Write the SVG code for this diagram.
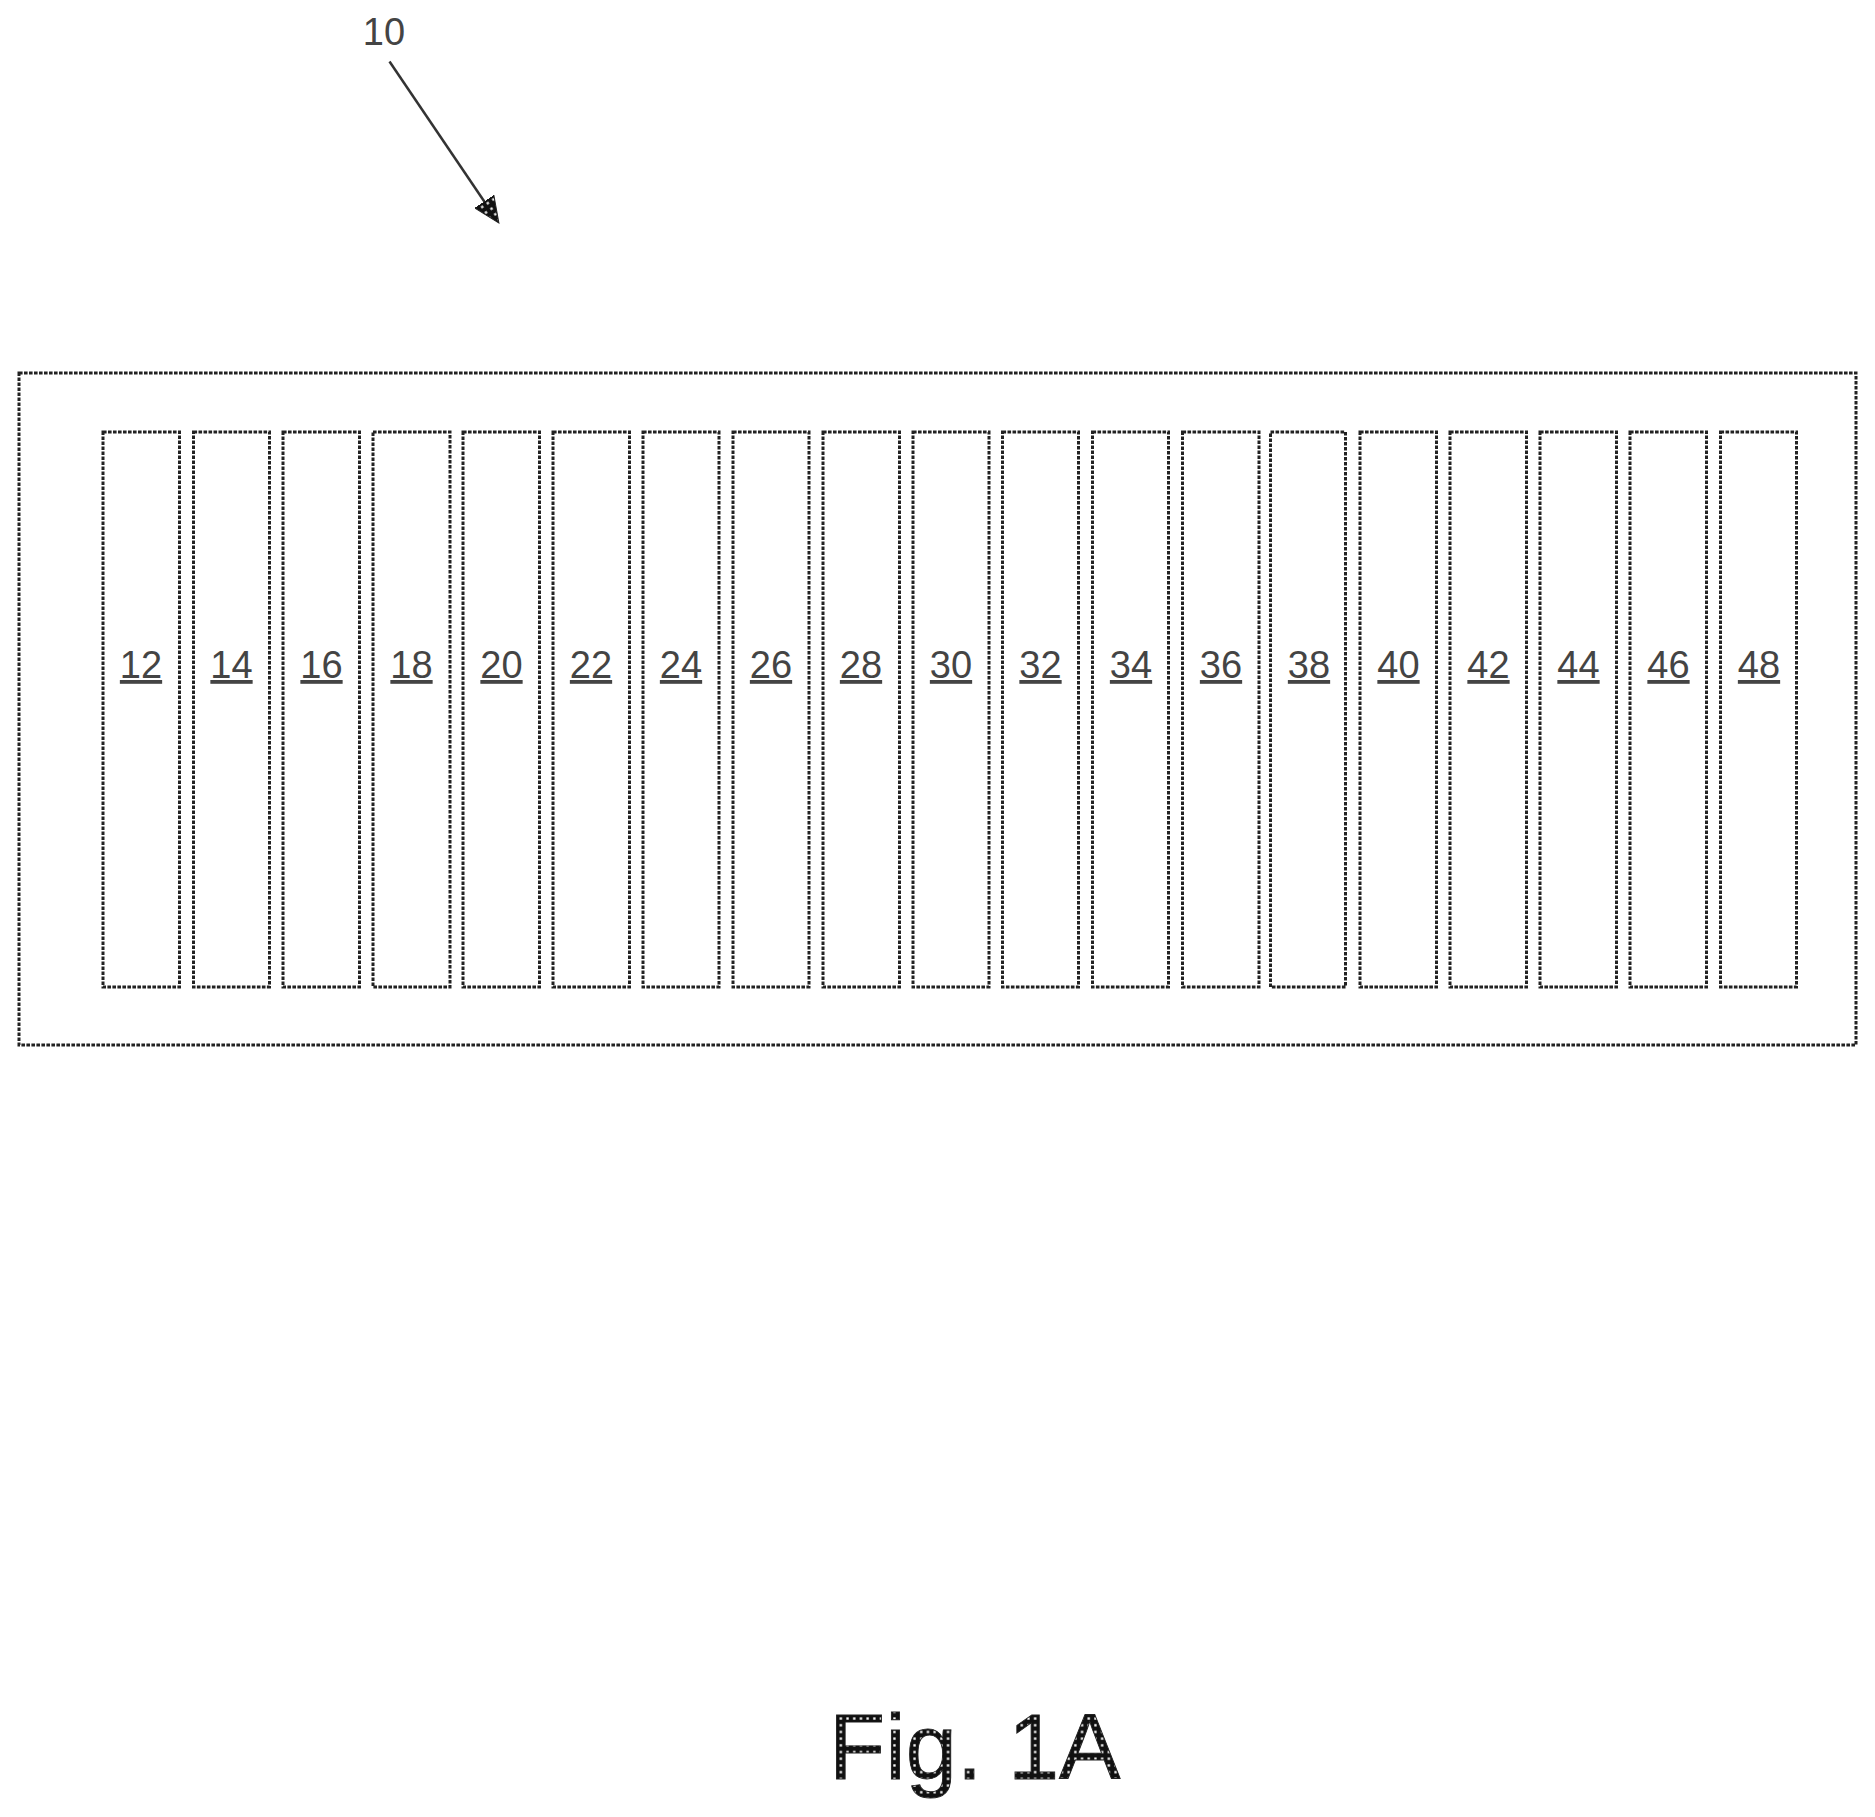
<svg xmlns="http://www.w3.org/2000/svg" width="1875" height="1817" viewBox="0 0 1875 1817">
<style>
.box{fill:#fff;stroke:#222;stroke-width:3;stroke-dasharray:3.6 1.4}
.lbl{font-family:"Liberation Sans",Arial,sans-serif;font-size:38px;fill:#444;text-anchor:middle}
.ul{text-decoration:underline}
.fig{font-family:"Liberation Sans",Arial,sans-serif;font-size:92px;fill:url(#speck);stroke:#222;stroke-width:.9}
.lead{stroke:#333;stroke-width:2.5;fill:none}
</style>
<defs>
<pattern id="speck" width="6.7" height="6.7" patternUnits="userSpaceOnUse">
<rect width="6.7" height="6.7" fill="#111"/>
<rect x="2.2" y="2.2" width="2.3" height="2.3" fill="#fff"/>
</pattern>
<marker id="head" markerUnits="userSpaceOnUse" markerWidth="27" markerHeight="24" viewBox="0 0 27 24" refX="0" refY="12" orient="auto">
<path d="M0 0.5L26 12L0 23.5Z" fill="url(#speck)" stroke="#222" stroke-width="1"/>
</marker>
</defs>
<rect width="1875" height="1817" fill="#fff"/>
<g id="label-10"><text class="lbl" x="384" y="45">10</text></g>
<g id="connectors"><line class="lead" x1="389.5" y1="61.5" x2="484.3" y2="201.5" marker-end="url(#head)"/></g>
<g id="frame"><rect class="box" x="19" y="373" width="1837" height="672"/></g>
<g id="n12"><rect class="box" x="103" y="432" width="76.5" height="555"/><text class="lbl ul" x="141" y="678">12</text></g>
<g id="n14"><rect class="box" x="193.5" y="432" width="76" height="555"/><text class="lbl ul" x="231.5" y="678">14</text></g>
<g id="n16"><rect class="box" x="283" y="432" width="76.5" height="555"/><text class="lbl ul" x="321.5" y="678">16</text></g>
<g id="n18"><rect class="box" x="373" y="432" width="77" height="555"/><text class="lbl ul" x="411.5" y="678">18</text></g>
<g id="n20"><rect class="box" x="463" y="432" width="76.5" height="555"/><text class="lbl ul" x="501.5" y="678">20</text></g>
<g id="n22"><rect class="box" x="553" y="432" width="76.5" height="555"/><text class="lbl ul" x="591" y="678">22</text></g>
<g id="n24"><rect class="box" x="643" y="432" width="76" height="555"/><text class="lbl ul" x="681" y="678">24</text></g>
<g id="n26"><rect class="box" x="733" y="432" width="76" height="555"/><text class="lbl ul" x="771" y="678">26</text></g>
<g id="n28"><rect class="box" x="823" y="432" width="76.5" height="555"/><text class="lbl ul" x="861" y="678">28</text></g>
<g id="n30"><rect class="box" x="913" y="432" width="76" height="555"/><text class="lbl ul" x="951" y="678">30</text></g>
<g id="n32"><rect class="box" x="1002.5" y="432" width="76" height="555"/><text class="lbl ul" x="1040.5" y="678">32</text></g>
<g id="n34"><rect class="box" x="1092.5" y="432" width="76" height="555"/><text class="lbl ul" x="1131" y="678">34</text></g>
<g id="n36"><rect class="box" x="1182.5" y="432" width="76.5" height="555"/><text class="lbl ul" x="1221" y="678">36</text></g>
<g id="n38"><rect class="box" x="1270.5" y="432" width="75" height="555"/><text class="lbl ul" x="1309" y="678">38</text></g>
<g id="n40"><rect class="box" x="1360" y="432" width="76.5" height="555"/><text class="lbl ul" x="1398.5" y="678">40</text></g>
<g id="n42"><rect class="box" x="1450" y="432" width="76.5" height="555"/><text class="lbl ul" x="1488.5" y="678">42</text></g>
<g id="n44"><rect class="box" x="1540" y="432" width="76.5" height="555"/><text class="lbl ul" x="1578.5" y="678">44</text></g>
<g id="n46"><rect class="box" x="1630" y="432" width="76.5" height="555"/><text class="lbl ul" x="1668.5" y="678">46</text></g>
<g id="n48"><rect class="box" x="1720.5" y="432" width="76" height="555"/><text class="lbl ul" x="1759" y="678">48</text></g>
<g id="caption"><text class="fig" x="829" y="1779">Fig. 1A</text></g>
</svg>
